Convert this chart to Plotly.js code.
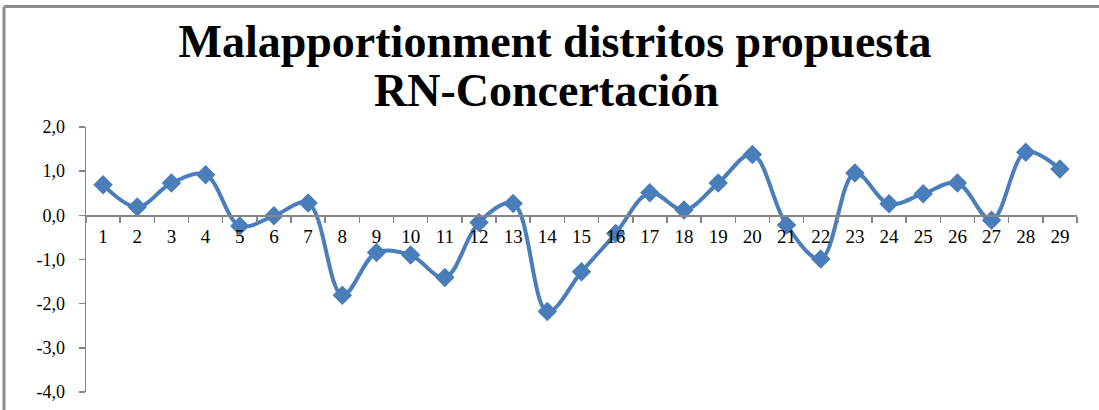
<!DOCTYPE html>
<html>
<head>
<meta charset="utf-8">
<script src="https://cdn.plot.ly/plotly-3.0.1.min.js"></script>
<style>
html,body{margin:0;padding:0;background:#fff;}
#chart{width:1099px;height:410px;}
</style>
</head>
<body>
<div id="chart"></div>
<script>
var distritos = ["1","2","3","4","5","6","7","8","9","10","11","12","13","14","15","16","17","18","19","20","21","22","23","24","25","26","27","28","29"];
var malapportionment = [0.69,0.19,0.73,0.92,-0.24,-0.01,0.28,-1.81,-0.84,-0.90,-1.41,-0.16,0.27,-2.18,-1.28,-0.41,0.51,0.12,0.73,1.38,-0.22,-0.99,0.96,0.26,0.49,0.73,-0.11,1.43,1.05];
var yTickVals = [-4,-3,-2,-1,0,1,2];
var yTickText = ["-4,0","-3,0","-2,0","-1,0","0,0","1,0","2,0"];
var titleLine1 = "Malapportionment distritos propuesta";
var titleLine2 = "RN-Concertación";

var serif = "Liberation Serif";
var titleFont = {family: serif, size: 46, color: "#000000", weight: 700};

var trace = {
  x: distritos,
  y: malapportionment,
  type: "scatter",
  mode: "lines+markers",
  line: {color: "#4A7EBB", width: 4, shape: "spline", smoothing: 1},
  marker: {symbol: "diamond", size: 15, color: "#4A7EBB"},
  hoverinfo: "x+y"
};

var axisColor = "#868686";
var layout = {
  width: 1099,
  height: 410,
  margin: {l: 86, r: 22, t: 127, b: 18},
  paper_bgcolor: "#ffffff",
  plot_bgcolor: "#ffffff",
  separators: ",.",
  showlegend: false,
  title: {
    text: "<b>" + titleLine1 + "</b>",
    font: titleFont,
    x: 0.4733, xanchor: "center", xref: "paper",
    y: 0.9, yanchor: "middle", yref: "container"
  },
  annotations: [
    {text: "<b>" + titleLine2 + "</b>", font: titleFont, showarrow: false,
     xref: "paper", yref: "paper", x: 0.465, y: 1.136, xanchor: "center", yanchor: "middle"}
  ],
  xaxis: {
    type: "category",
    range: [-0.5, 28.5],
    anchor: "free",
    position: 4/6,
    showline: true, linecolor: axisColor, linewidth: 1.5,
    ticks: "outside", tickson: "boundaries", ticklen: 6, tickcolor: axisColor, tickwidth: 1.5,
    showgrid: false, zeroline: false,
    tickfont: {family: serif, size: 19, color: "#000"},
    ticklabelstandoff: 3
  },
  yaxis: {
    range: [-4, 2],
    tickvals: yTickVals,
    ticktext: yTickText,
    showline: true, linecolor: axisColor, linewidth: 1.5,
    ticks: "outside", ticklen: 6, tickcolor: axisColor, tickwidth: 1.5,
    showgrid: false, zeroline: false,
    tickfont: {family: serif, size: 18, color: "#000"},
    ticklabelstandoff: 10
  },
  shapes: [
    {type: "line", xref: "paper", yref: "paper", x0: -0.0827, x1: -0.0827, y0: 1.4547, y1: -0.2, line: {color: "#8C8C8C", width: 3}},
    {type: "line", xref: "paper", yref: "paper", x0: -0.0827, x1: 1.05, y0: 1.4547, y1: 1.4547, line: {color: "#8C8C8C", width: 3}}
  ]
};

Plotly.newPlot("chart", [trace], layout, {displayModeBar: false, staticPlot: true});
</script>
</body>
</html>
